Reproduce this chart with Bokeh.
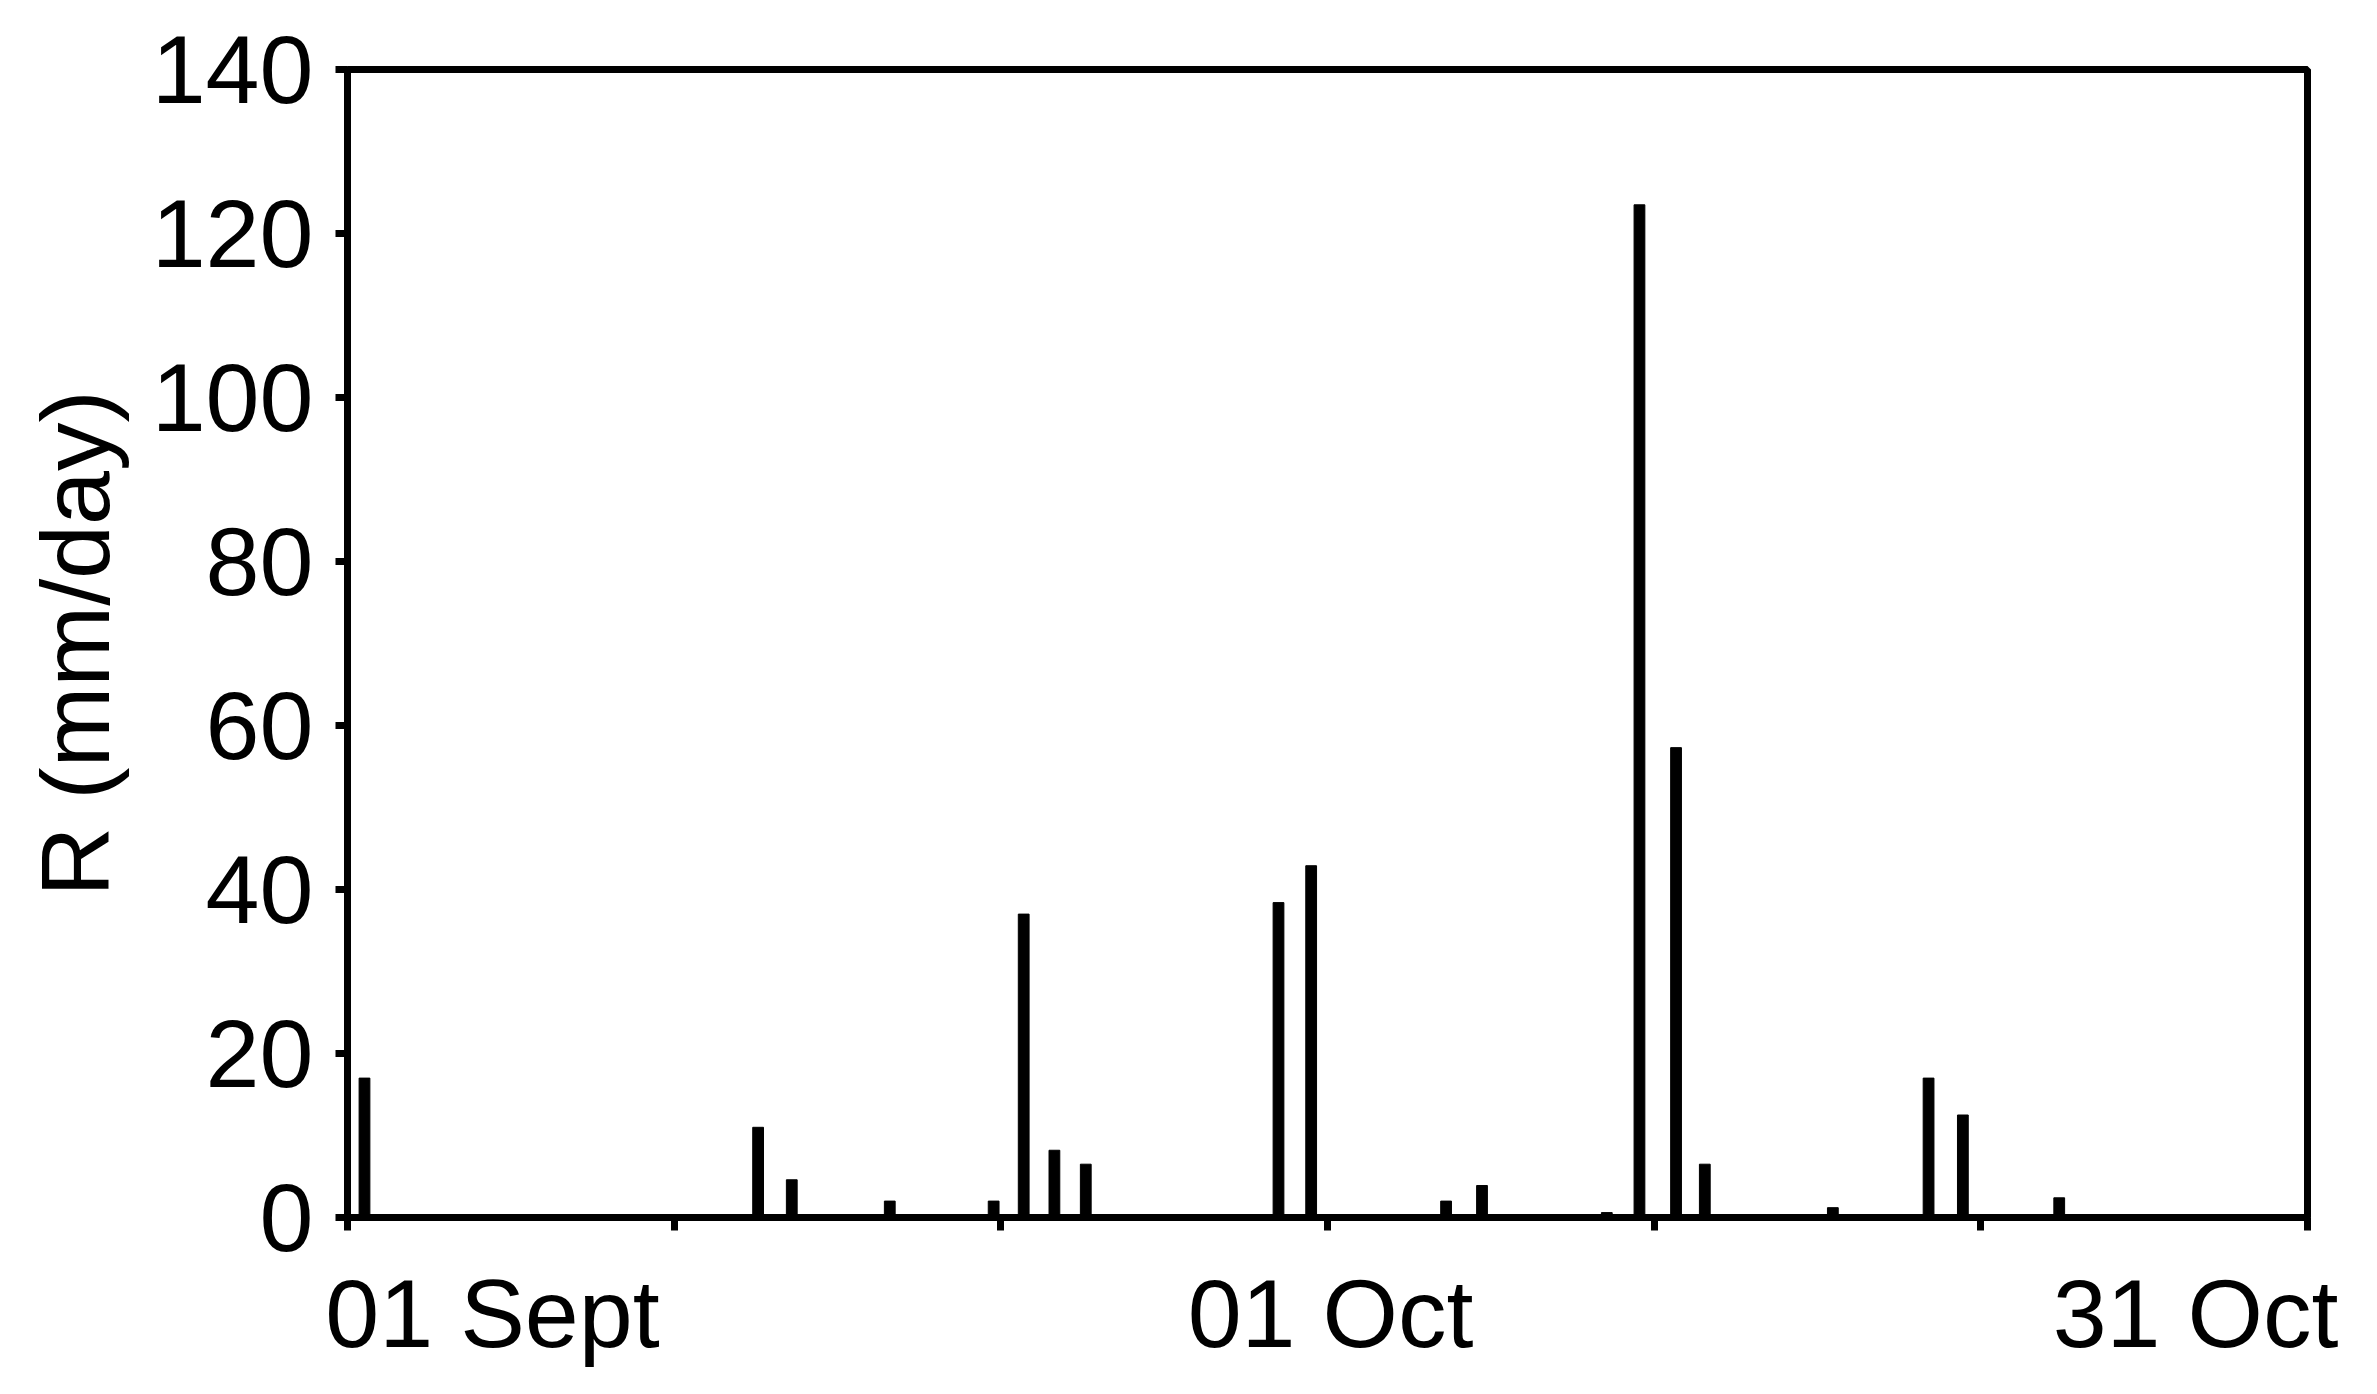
from bokeh.plotting import figure
from bokeh.models import Range1d, FixedTicker, LinearAxis
from bokeh.embed import file_html
from bokeh.resources import INLINE

# bar centres, in days after 01 Sept, and daily rainfall R (mm/day)
day = [0.52, 12.57, 13.6, 16.6, 19.78, 20.7, 21.64, 22.6, 28.5, 29.5,
       33.63, 34.73, 38.55, 39.55, 40.67, 41.55, 45.47, 48.4, 49.45, 52.4]
rain = [17.0, 11.0, 4.6, 2.0, 2.0, 37.0, 8.2, 6.5, 38.4, 42.9,
        2.0, 3.9, 0.6, 123.5, 57.3, 6.5, 1.2, 17.0, 12.5, 2.4]

x_ticks = [0, 10, 20, 30, 40, 50, 60]
x_label_days = [0, 30, 60]
x_label_texts = ["01 Sept", "01 Oct", "31 Oct"]
y_ticks = [0, 20, 40, 60, 80, 100, 120, 140]
y_title = "R (mm/day)"

FONT = "Liberation Sans"
FS = "97px"
LW = 7

W, H = 2361, 1378
BL, BR, BT, BB = 347, 54, 69, 161
p = figure(width=W, height=H, output_backend="svg", toolbar_location=None,
           x_range=Range1d(0, 60), y_range=Range1d(0, 140),
           min_border_left=BL, min_border_right=BR,
           min_border_top=BT, min_border_bottom=BB)
p.background_fill_color = "white"
p.border_fill_color = "white"
p.grid.visible = False
p.outline_line_color = "black"
p.outline_line_width = LW
p.outline_line_alpha = 1.0

p.vbar(x=day, top=rain, bottom=0, width=0.33, color="black")

# x axis: ticks only
xa = p.xaxis[0]
xa.ticker = FixedTicker(ticks=x_ticks)
xa.major_label_text_font_size = "0px"
xa.major_label_standoff = 0
xa.major_label_overrides = {t: "" for t in x_ticks}
xa.minor_tick_line_color = None
xa.major_tick_in = 0
xa.major_tick_out = 13
xa.major_tick_line_width = LW
xa.axis_line_width = LW
xa.axis_line_color = "black"
xa.major_tick_line_color = "black"

# second (label-only) x axis: the first and last labels sit inside the
# frame edges, shifted by a few pixels from their tick like the original
frame_w = W - BL - BR
px_per_day = frame_w / 60.0
label_shift_px = [145, 3, -112]
label_pos = [d + s / px_per_day for d, s in zip(x_label_days, label_shift_px)]
xl = LinearAxis(ticker=FixedTicker(ticks=label_pos),
                major_label_overrides={pos: t for pos, t in zip(label_pos, x_label_texts)})
xl.axis_line_color = None
xl.major_tick_line_color = None
xl.minor_tick_line_color = None
xl.major_tick_out = 0
xl.major_tick_in = 0
xl.major_label_standoff = 28
xl.major_label_text_font = FONT
xl.major_label_text_font_size = FS
xl.major_label_text_color = "black"
p.add_layout(xl, "below")

# y axis
ya = p.yaxis[0]
ya.ticker = FixedTicker(ticks=y_ticks)
ya.minor_tick_line_color = None
ya.major_tick_in = 0
ya.major_tick_out = 12
ya.major_tick_line_width = LW
ya.axis_line_width = LW
ya.axis_line_color = "black"
ya.major_tick_line_color = "black"
ya.major_label_text_font = FONT
ya.major_label_text_font_size = FS
ya.major_label_text_color = "black"
ya.major_label_standoff = 22
ya.axis_label = y_title
ya.axis_label_text_font = FONT
ya.axis_label_text_font_size = FS
ya.axis_label_text_font_style = "normal"
ya.axis_label_text_color = "black"
ya.axis_label_standoff = 19

open("out.html", "w").write(file_html(p, INLINE))
